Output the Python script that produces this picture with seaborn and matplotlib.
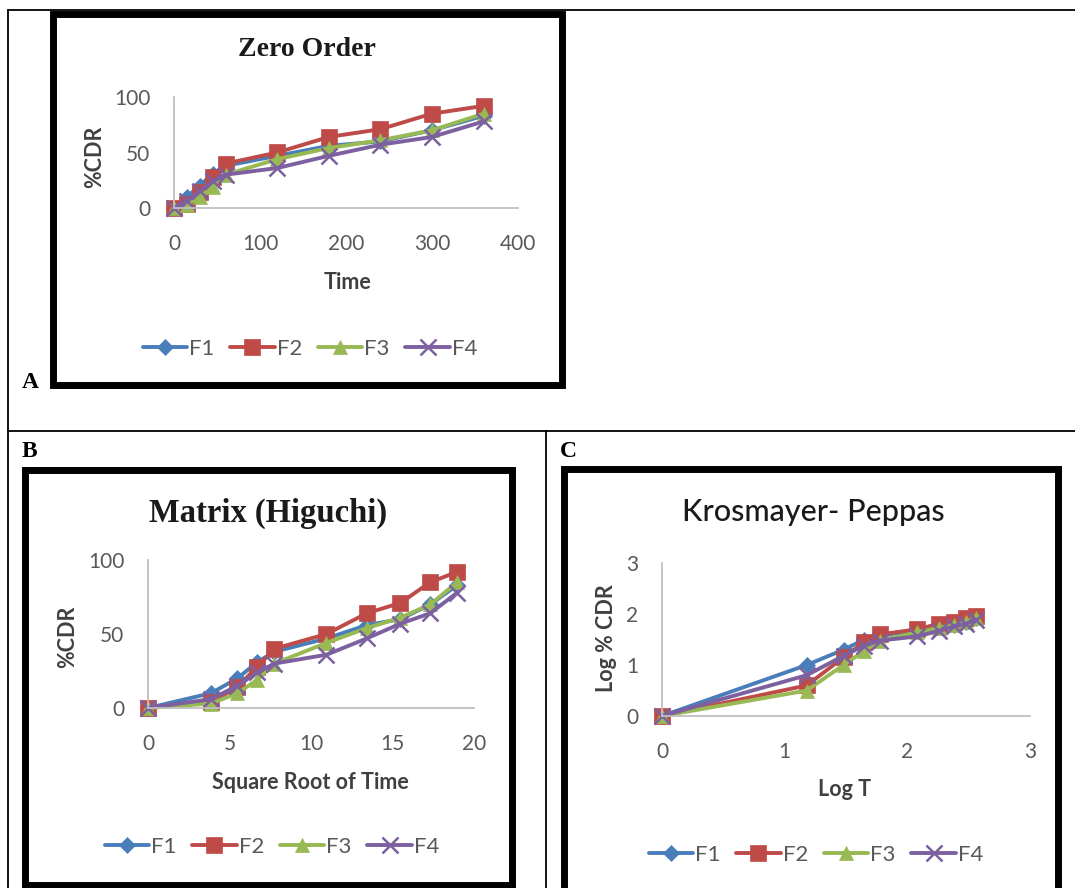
import numpy as np
import pandas as pd
import matplotlib
matplotlib.use("Agg")
import matplotlib.pyplot as plt
from matplotlib.patches import Rectangle
from matplotlib.lines import Line2D
import seaborn as sns

# ---------------- data ----------------
series_names = ["F1", "F2", "F3", "F4"]
time_min = [0, 15, 30, 45, 60, 120, 180, 240, 300, 360]
sqrt_time = [0, 3.87, 5.48, 6.71, 7.75, 10.95, 13.42, 15.49, 17.32, 18.97]
log_time = [0, 1.18, 1.48, 1.65, 1.78, 2.08, 2.26, 2.38, 2.48, 2.56]

cdr_f1 = [0, 10, 20, 31, 38, 47, 56, 60, 70, 83]
cdr_f2 = [0, 4, 14, 28, 40, 50, 64, 71, 85, 92]
cdr_f3 = [0, 3, 10, 19, 30, 44, 54, 61, 70, 85]
cdr_f4 = [0, 6, 15, 24, 30, 36, 47, 57, 64, 78]

log_cdr_f1 = [0, 1.00, 1.30, 1.50, 1.58, 1.67, 1.75, 1.78, 1.85, 1.92]
log_cdr_f2 = [0, 0.60, 1.15, 1.45, 1.60, 1.70, 1.81, 1.85, 1.93, 1.96]
log_cdr_f3 = [0, 0.50, 1.00, 1.28, 1.48, 1.64, 1.73, 1.79, 1.85, 1.93]
log_cdr_f4 = [0, 0.80, 1.18, 1.38, 1.48, 1.56, 1.67, 1.76, 1.81, 1.89]

zero_xticks = [0, 100, 200, 300, 400]
zero_yticks = [0, 50, 100]
hig_xticks = [0, 5, 10, 15, 20]
hig_yticks = [0, 50, 100]
kp_xticks = [0, 1, 2, 3]
kp_yticks = [0, 1, 2, 3]

# ---------------- style ----------------
sns.set_theme(style="white")
plt.rcParams["font.family"] = ["Lato", "DejaVu Sans"]

colors = ["#4A7EBB", "#BE4B48", "#98B954", "#7D60A0"]
markers = ["D", "s", "^", "x"]
msizes = [8.5, 11.5, 10.5, 11]

W, H = 1075, 888
fig = plt.figure(figsize=(W / 100, H / 100), dpi=100)


def fx(px):
    return px / W


def fy(py):
    return 1 - py / H


def axes_px(x0, x1, y_top, y_bot):
    return fig.add_axes([fx(x0), fy(y_bot), (x1 - x0) / W, (y_bot - y_top) / H])


def draw_panel(ax, xs, ys_list, xlim, ylim, xticks, yticks, xlabel, ylabel,
               xlab_pos, ylab_pos):
    for name, ys, c, m, ms in zip(series_names, ys_list, colors, markers, msizes):
        df = pd.DataFrame({"x": xs, "y": ys})
        sns.lineplot(data=df, x="x", y="y", ax=ax, color=c, marker=m,
                     markersize=ms, markeredgecolor=c,
                     markeredgewidth=(1.8 if m == "x" else 0.5),
                     linewidth=2.8, label=name, legend=False, sort=False)
    for ln in ax.lines:
        ln.set_clip_on(False)
    ax.set_xlim(*xlim)
    ax.set_ylim(*ylim)
    ax.set_xticks(xticks)
    ax.set_yticks(yticks)
    ax.set_xticklabels([str(t) for t in xticks])
    ax.set_yticklabels([str(t) for t in yticks])
    for s in ["top", "right"]:
        ax.spines[s].set_visible(False)
    for s in ["left", "bottom"]:
        ax.spines[s].set_color("#BFBFBF")
        ax.spines[s].set_linewidth(1.3)
    ax.tick_params(axis="both", which="major", direction="out", length=6,
                   width=1.3, color="#BFBFBF", labelsize=15,
                   labelcolor="#595959")
    ax.tick_params(axis="x", pad=13)
    ax.tick_params(axis="y", pad=11)
    ax.grid(False)
    ax.set_facecolor("none")
    ax.set_xlabel(xlabel, fontsize=15.5, fontweight="bold", color="#404040")
    ax.set_ylabel(ylabel, fontsize=15.5, fontweight="bold", color="#404040")
    ax.xaxis.set_label_coords(*xlab_pos)
    ax.yaxis.set_label_coords(*ylab_pos)


def legend_at(cx, cy):
    handles = [Line2D([0], [0], color=c, marker=m, markersize=ms,
                      markeredgecolor=c,
                      markeredgewidth=(1.8 if m == "x" else 0.5),
                      linewidth=2.8)
               for c, m, ms in zip(colors, markers, msizes)]
    fig.legend(handles, series_names, loc="center",
               bbox_to_anchor=(fx(cx), fy(cy)), ncol=4, frameon=False,
               fontsize=16, handlelength=2.0, handletextpad=0.1,
               columnspacing=0.7, labelcolor="#595959", numpoints=1)


# ---------------- table lines ----------------
line_kw = dict(color="black", linewidth=1.3, transform=fig.transFigure)
fig.add_artist(Line2D([fx(8), fx(1075)], [fy(10), fy(10)], **line_kw))
fig.add_artist(Line2D([fx(8), fx(8)], [fy(10), fy(888)], **line_kw))
fig.add_artist(Line2D([fx(8), fx(1075)], [fy(431), fy(431)], **line_kw))
fig.add_artist(Line2D([fx(546), fx(546)], [fy(431), fy(888)], **line_kw))

# ---------------- chart boxes ----------------
def box(x0, y0, x1, y1):
    fig.add_artist(Rectangle((fx(x0), fy(y1)), (x1 - x0) / W, (y1 - y0) / H,
                             transform=fig.transFigure, fill=False,
                             edgecolor="black", linewidth=5.0, clip_on=False))

box(53, 13.5, 562, 385)
box(25, 470, 512, 885)
box(564, 469, 1058, 900)

# panel letters
lab_kw = dict(family=["Liberation Serif", "DejaVu Serif"], fontweight="bold",
              fontsize=17, color="black")
fig.text(fx(22), fy(388), "A", ha="left", va="baseline", **lab_kw)
fig.text(fx(22), fy(457), "B", ha="left", va="baseline", **lab_kw)
fig.text(fx(560), fy(457), "C", ha="left", va="baseline", **lab_kw)

# ---------------- Panel A: Zero Order ----------------
axA = axes_px(174, 518, 97, 208)
draw_panel(axA, time_min, [cdr_f1, cdr_f2, cdr_f3, cdr_f4], (0, 400), (0, 100),
           zero_xticks, zero_yticks, "Time", "%CDR",
           (0.503, -0.58), (-0.20, 0.46))
fig.text(fx(307), fy(50), "Zero Order", ha="center", va="center",
         family=["Liberation Serif", "DejaVu Serif"], fontweight="bold",
         fontsize=20, color="#1a1a1a")
legend_at(310, 349)

# ---------------- Panel B: Higuchi ----------------
axB = axes_px(148, 474, 560, 708)
draw_panel(axB, sqrt_time, [cdr_f1, cdr_f2, cdr_f3, cdr_f4], (0, 20), (0, 100),
           hig_xticks, hig_yticks, "Square Root of Time", "%CDR",
           (0.497, -0.43), (-0.215, 0.48))
fig.text(fx(268), fy(513), "Matrix (Higuchi)", ha="center", va="center",
         family=["Liberation Serif", "DejaVu Serif"], fontweight="bold",
         fontsize=23.5, color="#1a1a1a")
legend_at(272, 847)

# ---------------- Panel C: Korsmeyer-Peppas ----------------
axC = axes_px(662, 1030, 563, 716)
draw_panel(axC, log_time, [log_cdr_f1, log_cdr_f2, log_cdr_f3, log_cdr_f4],
           (0, 3), (0, 3), kp_xticks, kp_yticks, "Log T", "Log % CDR",
           (0.497, -0.41), (-0.122, 0.51))
fig.text(fx(813), fy(512), "Krosmayer- Peppas", ha="center", va="center",
         fontsize=22, fontweight="medium", color="#1a1a1a")
legend_at(816, 855)

fig.savefig("out.png", dpi=100, facecolor="white")
